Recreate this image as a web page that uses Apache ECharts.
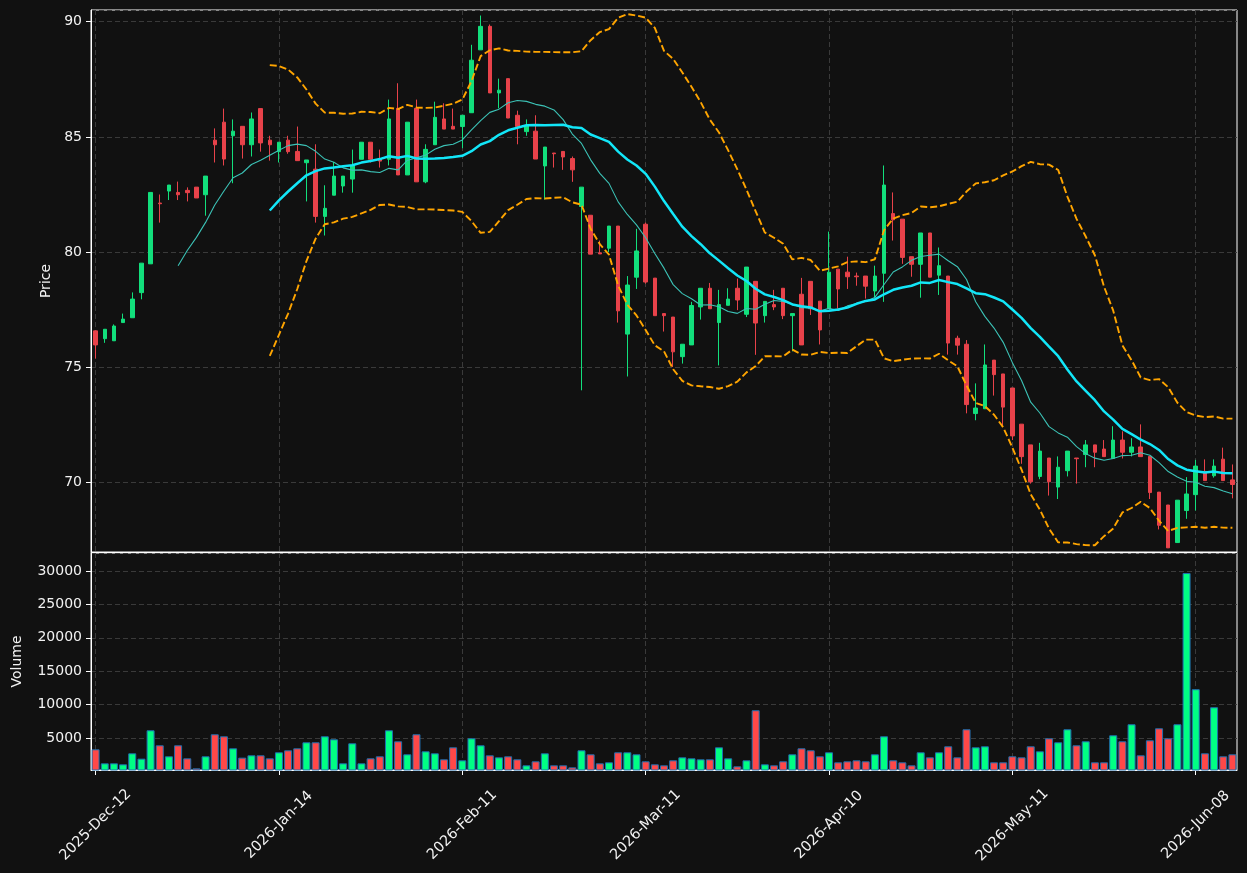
<!DOCTYPE html>
<html>
<head>
<meta charset="utf-8">
<script src="https://cdn.jsdelivr.net/npm/echarts@6/dist/echarts.min.js"></script>
<style>
  html, body { margin: 0; padding: 0; background: #111111; }
  #chart { width: 1247px; height: 873px; }
</style>
</head>
<body>
<div id="chart"></div>
<script>
// daily bars, index 0 = 2025-Dec-12
const OPEN = [
  76.58, 76.24, 76.15, 76.94, 77.15, 78.24, 79.49, 82.13, 82.65, 82.59,
  82.68, 82.82, 82.49, 84.86, 85.64, 85.05, 85.46, 84.66, 86.23, 84.86,
  84.36, 84.86, 84.37, 83.88, 83.60, 81.55, 82.47, 82.87, 83.17, 84.03,
  84.77, 84.03, 84.03, 86.24, 83.35, 86.24, 83.05, 84.66, 85.78, 85.46,
  85.45, 86.05, 88.78, 89.80, 86.91, 87.53, 85.94, 85.23, 85.25, 83.74,
  84.30, 84.37, 84.06, 81.98, 81.60, 79.97, 80.17, 81.13, 76.44, 78.91,
  81.21, 78.87, 77.33, 77.18, 75.46, 75.97, 77.62, 78.43, 76.94, 77.69,
  78.43, 77.30, 78.73, 77.24, 77.72, 78.43, 77.24, 78.17, 78.73, 77.87,
  77.54, 79.26, 79.13, 78.96, 78.96, 78.31, 79.08, 81.67, 81.43, 79.80,
  79.47, 80.83, 79.00, 78.96, 76.26, 76.00, 72.99, 73.20, 75.31, 74.71,
  74.10, 72.53, 71.63, 70.26, 71.06, 69.80, 70.51, 71.06, 71.21, 71.63,
  71.45, 71.04, 71.84, 71.31, 71.54, 71.13, 69.58, 69.02, 67.39, 68.78,
  69.47, 70.48, 70.29, 71.01, 70.11
];
const HIGH = [
  76.60, 76.65, 76.86, 77.33, 78.25, 79.52, 82.59, 82.50, 82.91, 83.06,
  82.81, 82.82, 83.30, 85.37, 86.23, 85.76, 85.46, 86.06, 86.23, 85.05,
  84.77, 85.05, 85.45, 84.00, 84.68, 82.90, 83.91, 83.30, 84.45, 84.77,
  84.77, 84.45, 86.62, 87.33, 85.64, 86.62, 84.68, 86.53, 86.46, 86.23,
  85.94, 89.00, 90.27, 89.88, 87.53, 87.53, 86.14, 85.76, 85.94, 84.56,
  84.30, 84.37, 84.15, 82.82, 81.60, 80.50, 81.13, 81.13, 78.96, 81.01,
  81.28, 78.87, 77.33, 77.18, 76.00, 77.84, 78.43, 78.66, 78.36, 78.43,
  78.85, 79.35, 78.73, 77.86, 78.36, 78.43, 77.33, 78.88, 78.73, 77.87,
  80.89, 79.26, 79.80, 79.11, 78.96, 79.41, 83.76, 82.59, 81.43, 79.80,
  80.83, 80.83, 80.20, 78.96, 76.37, 76.18, 74.30, 75.99, 75.31, 74.71,
  74.10, 72.53, 71.63, 71.72, 71.06, 71.13, 71.36, 71.06, 71.84, 71.63,
  71.84, 72.44, 72.22, 71.92, 72.52, 71.13, 69.58, 69.02, 69.23, 70.23,
  70.98, 71.00, 71.00, 71.51, 70.78
];
const LOW = [
  75.38, 76.06, 76.15, 76.94, 77.15, 77.95, 79.49, 81.28, 82.26, 82.26,
  82.20, 82.35, 81.58, 83.89, 83.76, 82.99, 84.06, 84.15, 84.36, 83.97,
  83.89, 84.27, 83.97, 82.20, 81.28, 80.72, 82.47, 82.58, 82.58, 84.03,
  83.89, 83.67, 83.76, 83.35, 83.35, 83.05, 82.99, 84.66, 85.34, 85.34,
  84.51, 86.05, 88.78, 86.91, 86.24, 85.82, 84.68, 85.05, 84.04, 82.28,
  83.67, 83.57, 83.05, 74.00, 79.91, 79.92, 80.00, 76.94, 74.60, 78.40,
  78.63, 77.24, 76.55, 75.01, 75.16, 75.97, 77.07, 77.54, 75.08, 77.69,
  77.48, 77.18, 75.54, 76.94, 77.48, 77.09, 75.69, 75.97, 77.27, 75.99,
  77.54, 77.54, 78.40, 78.54, 77.98, 78.02, 77.84, 80.50, 79.49, 78.93,
  78.02, 78.91, 78.14, 75.55, 75.55, 73.00, 72.70, 73.20, 73.77, 72.44,
  71.84, 70.81, 69.95, 70.14, 69.43, 69.28, 70.26, 69.95, 70.66, 70.66,
  71.12, 71.04, 71.04, 71.13, 71.12, 69.28, 67.96, 67.16, 67.39, 68.42,
  68.78, 70.08, 70.21, 70.08, 69.31
];
const CLOSE = [
  75.97, 76.65, 76.79, 77.09, 77.96, 79.52, 82.59, 82.10, 82.91, 82.49,
  82.58, 82.35, 83.30, 84.66, 84.04, 85.25, 84.66, 85.78, 84.74, 84.66,
  84.77, 84.36, 83.97, 84.00, 81.55, 81.90, 83.30, 83.30, 83.77, 84.77,
  84.03, 83.95, 85.78, 83.35, 85.64, 83.05, 84.46, 85.85, 85.34, 85.34,
  85.94, 88.33, 89.80, 86.91, 87.03, 85.82, 85.45, 85.48, 84.04, 84.56,
  84.27, 84.13, 83.57, 82.82, 79.91, 79.92, 81.13, 77.45, 78.57, 80.05,
  78.70, 77.24, 77.24, 75.67, 76.00, 77.68, 78.43, 77.54, 77.72, 77.96,
  77.92, 79.35, 76.92, 77.86, 77.62, 77.24, 77.33, 75.97, 77.54, 76.62,
  79.13, 78.40, 78.93, 78.93, 78.52, 78.96, 82.91, 81.40, 79.77, 79.47,
  80.83, 78.91, 79.41, 76.05, 75.96, 73.38, 73.23, 75.10, 74.68, 73.27,
  72.02, 71.12, 70.03, 71.36, 70.03, 70.66, 71.36, 71.03, 71.63, 71.31,
  71.12, 71.84, 71.31, 71.54, 71.12, 69.56, 68.14, 67.16, 69.23, 69.50,
  70.71, 70.08, 70.71, 70.08, 69.91
];
const VOLUME = [
  3300, 1200, 1200, 1050, 2700, 1900, 6150, 3900, 2250, 3900,
  1950, 450, 2250, 5550, 5250, 3450, 2050, 2400, 2400, 1950,
  2850, 3150, 3450, 4350, 4350, 5250, 4800, 1200, 4200, 1200,
  1950, 2250, 6150, 4500, 2550, 5550, 3000, 2700, 1800, 3600,
  1650, 4950, 3900, 2400, 2100, 2250, 1800, 900, 1500, 2700,
  900, 900, 600, 3150, 2550, 1200, 1350, 2850, 2850, 2550,
  1500, 1050, 900, 1650, 2100, 1950, 1800, 1800, 3600, 1950,
  750, 1650, 9150, 1050, 900, 1500, 2550, 3450, 3150, 2250,
  2850, 1350, 1500, 1650, 1500, 2550, 5250, 1650, 1350, 900,
  2850, 2100, 2850, 3750, 2100, 6300, 3600, 3750, 1350, 1350,
  2250, 2100, 3750, 3000, 4950, 4350, 6300, 3900, 4500, 1350,
  1350, 5400, 4500, 7050, 2400, 4650, 6450, 4950, 7050, 29700,
  12300, 2700, 9600, 2250, 2550
];
const TICK_LABELS = ["2025-Dec-12", "2026-Jan-14", "2026-Feb-11", "2026-Mar-11",
                     "2026-Apr-10", "2026-May-11", "2026-Jun-08"];
const TICK_STEP = 20;

const UP = "#12df7c";
const DOWN = "#e8424a";
const VOL_UP = "#00ff84";
const VOL_DOWN = "#ff4848";
const TEXT = "#f2f2f2";
const GRID_LINE = { color: "#3a3a3a", type: [5, 3], width: 1 };

// rolling mean / bands of the closes, as the indicator lines do
function rolling(n, fn) {
  return CLOSE.map((_, i) => {
    if (i < n - 1) return "-";
    const win = CLOSE.slice(i - n + 1, i + 1);
    return +fn(win).toFixed(3);
  });
}
const mean = w => w.reduce((a, b) => a + b, 0) / w.length;
const std = w => { const m = mean(w); return Math.sqrt(mean(w.map(v => (v - m) ** 2))); };
const ma10 = rolling(10, mean);
const ma20 = rolling(20, mean);
const upper = rolling(20, w => mean(w) + 2 * std(w));
const lower = rolling(20, w => mean(w) - 2 * std(w));

const categories = CLOSE.map((_, i) => String(i));
const candles = OPEN.map((o, i) => [o, CLOSE[i], LOW[i], HIGH[i]]);
const volumes = VOLUME.map((v, i) => ({
  value: v,
  itemStyle: { color: CLOSE[i] >= OPEN[i] ? VOL_UP : VOL_DOWN }
}));

const chart = echarts.init(document.getElementById("chart"));
const font = { fontFamily: "DejaVu Sans", fontSize: 14, color: TEXT };

function xAxis(gridIndex, showLabels) {
  return {
    type: "category",
    gridIndex,
    data: categories,
    boundaryGap: true,
    axisLine: { show: true, lineStyle: { color: "#ffffff", width: 1 } },
    axisTick: { show: showLabels, interval: TICK_STEP - 1, alignWithLabel: true, length: 5,
                lineStyle: { color: "#ffffff" } },
    axisLabel: {
      show: showLabels, interval: TICK_STEP - 1, rotate: 45, align: "center",
      verticalAlign: "middle", margin: 55, ...font, fontSize: 14.5,
      formatter: (v, idx) => TICK_LABELS[idx / TICK_STEP] || ""
    },
    splitLine: { show: true, interval: TICK_STEP - 1, alignWithLabel: true, lineStyle: GRID_LINE }
  };
}

function yAxis(gridIndex, name, min, max, step, gap) {
  return {
    type: "value",
    gridIndex,
    name,
    nameLocation: "middle",
    nameGap: gap,
    nameTextStyle: font,
    min, max,
    minInterval: step, maxInterval: step,
    axisLine: { show: true, lineStyle: { color: "#ffffff" } },
    axisTick: { show: true, length: 5, lineStyle: { color: "#ffffff" } },
    axisLabel: { ...font, margin: 9, showMinLabel: false, showMaxLabel: false,
                 formatter: v => String(v) },
    splitLine: { show: true, lineStyle: GRID_LINE }
  };
}

const line = (name, data, color, width, type) => ({
  name, type: "line", data, xAxisIndex: 0, yAxisIndex: 0,
  showSymbol: false, symbol: "none", smooth: false,
  lineStyle: { color, width, type: type || "solid" }, z: 3
});

chart.setOption({
  backgroundColor: "#111111",
  animation: false,
  grid: [
    { left: 91, right: 10, top: 10, height: 542, show: true, borderColor: "#ffffff", borderWidth: 1 },
    { left: 91, right: 10, top: 553, height: 217, show: true, borderColor: "#ffffff", borderWidth: 1 }
  ],
  xAxis: [xAxis(0, false), xAxis(1, true)],
  yAxis: [
    yAxis(0, "Price", 66.98, 90.51, 5, 38),
    yAxis(1, "Volume", 200, 32700, 5000, 67)
  ],
  series: [
    {
      name: "Price", type: "candlestick", data: candles, xAxisIndex: 0, yAxisIndex: 0,
      barWidth: 4,
      itemStyle: { color: UP, color0: DOWN, borderColor: UP, borderColor0: DOWN,
                   borderColorDoji: DOWN, borderWidth: 1 }
    },
    line("MA10", ma10, "#3cc2b6", 1.1),
    line("MA20", ma20, "#12e6f8", 2.5),
    line("Upper", upper, "#ffa500", 1.9, [7, 3]),
    line("Lower", lower, "#ffa500", 1.9, [7, 3]),
    {
      name: "Volume", type: "bar", data: volumes, xAxisIndex: 1, yAxisIndex: 1,
      barWidth: 8,
      itemStyle: { borderColor: "#1f6fb0", borderWidth: 1 }
    }
  ]
});
</script>
</body>
</html>
